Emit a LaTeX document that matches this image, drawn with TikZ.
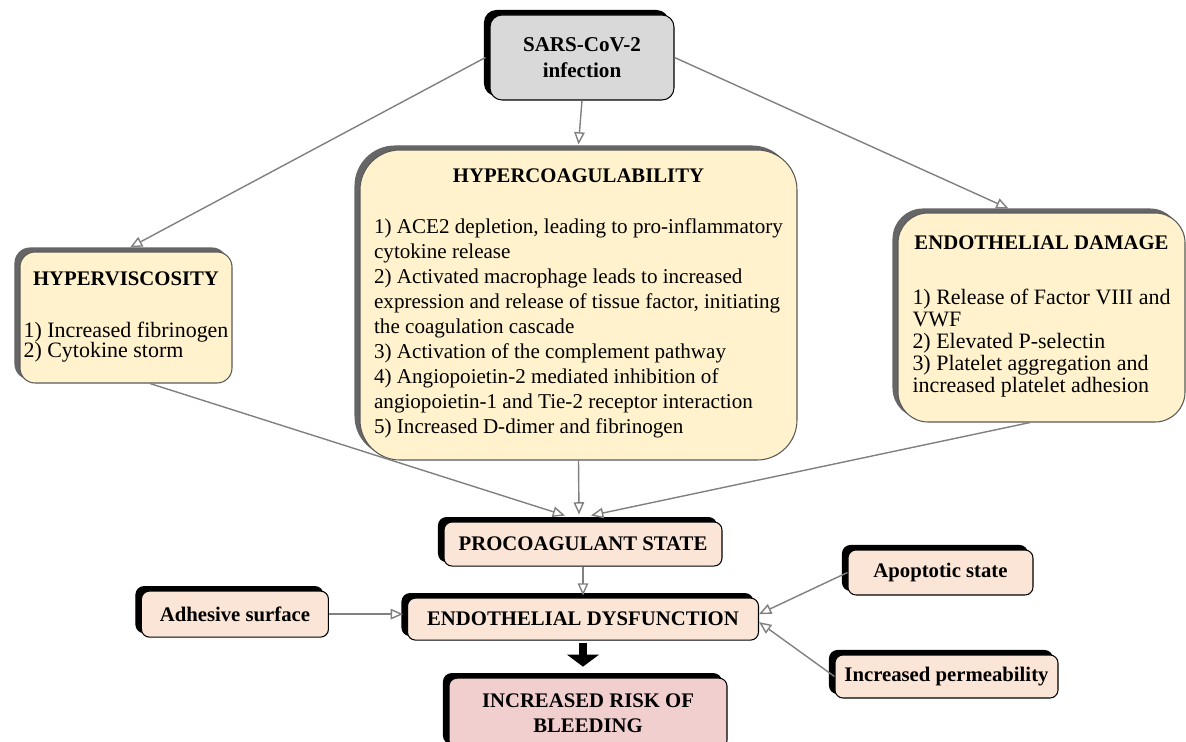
\documentclass[tikz,border=0pt]{standalone}
\usepackage{fontspec}
\setmainfont{Liberation Serif}
\usetikzlibrary{arrows.meta, positioning, shadows}
\definecolor{sarsgray}{HTML}{D9D9D9}
\definecolor{paleyellow}{HTML}{FFF2CC}
\definecolor{peach}{HTML}{FBE5D6}
\definecolor{rose}{HTML}{F2CFCF}
\definecolor{linkgray}{HTML}{808080}
\newcommand{\boxhead}[1]{{\fontsize{11.8}{12}\selectfont\bfseries #1}}

\begin{document}
\begin{tikzpicture}[node distance=1cm, >=latex,
    every node/.style={align=center, inner sep=2pt},
    smallbox/.style={rectangle, rounded corners=0.16cm, draw=black, line width=0.6pt, fill=peach,
      font=\fontsize{11.8}{14}\selectfont\bfseries,
      copy shadow={shadow xshift=-0.11cm, shadow yshift=0.09cm, fill=black, draw=black}},
    bigbox/.style={rectangle, rounded corners=0.6cm, draw=black!65, line width=0.6pt, fill=paleyellow,
      copy shadow={shadow xshift=-0.1cm, shadow yshift=0.08cm, fill=black!60, draw=black!60}},
    link/.style={draw=linkgray, line width=0.8pt, -{Triangle[fill=white, length=7pt, width=6pt]}},
    blockarrow/.style={line width=0.16cm, -{Triangle[length=0.24cm, width=0.64cm, line width=0pt]}},
  ]
    \useasboundingbox (0,0) rectangle (23.72,-14.84);

    % Nodes
    \node (sars) [smallbox, fill=sarsgray, rounded corners=0.24cm, minimum width=3.68cm, minimum height=1.7cm,
      font=\fontsize{12}{14.5}\selectfont\bfseries] at (11.64,-1.15) {SARS-CoV-2\\infection};

    \node (hypercoag) [bigbox, rounded corners=0.8cm, minimum width=8.74cm, minimum height=6.2cm,
      font=\fontsize{12}{14.2}\selectfont] at (11.57,-6.10) {\boxhead{HYPERCOAGULABILITY}\\[14.8pt]
      \begin{tabular}[t]{@{}l@{}}
        1) ACE2 depletion, leading to pro-inflammatory\\
        cytokine release\\
        2) Activated macrophage leads to increased\\
        expression and release of tissue factor, initiating\\
        the coagulation cascade\\
        3) Activation of the complement pathway\\
        4) Angiopoietin-2 mediated inhibition of\\
        angiopoietin-1 and Tie-2 receptor interaction\\
        5) Increased D-dimer and fibrinogen
      \end{tabular}};

    \node (hypervisc) [bigbox, rounded corners=0.3cm, minimum width=4.24cm, minimum height=2.62cm,
      font=\fontsize{12.5}{10.6}\selectfont] at (2.52,-6.35) {\boxhead{HYPERVISCOSITY}\\[19pt]
      \begin{tabular}[t]{@{}l@{}}
        1) Increased fibrinogen\\
        2) Cytokine storm
      \end{tabular}};

    \node (endodmg) [bigbox, minimum width=5.74cm, minimum height=4.18cm,
      font=\fontsize{12.5}{12.5}\selectfont] at (20.83,-6.35) {\boxhead{ENDOTHELIAL DAMAGE}\\[18.8pt]
      \begin{tabular}[t]{@{}l@{}}
        1) Release of Factor VIII and\\
        VWF\\
        2) Elevated P-selectin\\
        3) Platelet aggregation and\\
        increased platelet adhesion
      \end{tabular}};

    \node (procoag) [smallbox, below=1.22cm of hypercoag, xshift=0.09cm, minimum width=5.56cm, minimum height=0.88cm] {PROCOAGULANT STATE};
    \node (dysfunc) [smallbox, below=0.62cm of procoag, minimum width=7.02cm, minimum height=0.84cm] {ENDOTHELIAL DYSFUNCTION};
    \node (bleeding) [smallbox, fill=rose, below=0.74cm of dysfunc, xshift=0.1cm, minimum width=5.56cm, minimum height=1.4cm] {INCREASED RISK OF\\BLEEDING};

    \node (adhesive) [smallbox, left=1.56cm of dysfunc, yshift=0.1cm, minimum width=3.74cm, minimum height=0.92cm] {Adhesive surface};
    \node (apoptotic) [smallbox, minimum width=3.7cm, minimum height=0.9cm] at (18.81,-11.45) {Apoptotic state};
    \node (permeab) [smallbox, minimum width=4.46cm, minimum height=0.86cm] at (18.93,-13.53) {Increased permeability};

    % Connections
    \draw[link] ([xshift=-0.08cm]sars.west) -- ([shift={(0.08,0.08)}]hypervisc.north);
    \draw[link] (sars.south) -- ([yshift=0.1cm]hypercoag.north);
    \draw[link] (sars.east) -- ([shift={(-0.66,0.08)}]endodmg.north);

    \draw[link] ([xshift=0.48cm]hypervisc.south) -- ([shift={(-0.36,0.12)}]procoag.north);
    \draw[link] (hypercoag.south) -- ([shift={(-0.08,0.14)}]procoag.north);
    \draw[link] ([xshift=-0.23cm]endodmg.south) -- ([shift={(0.16,0.12)}]procoag.north);

    \draw[link] (procoag.south) -- ([yshift=0.04cm]dysfunc.north);
    \draw[link] (adhesive.east) -- ([xshift=-0.08cm]adhesive.east -| dysfunc.west);
    \draw[link] (apoptotic.west) -- ([yshift=0.1cm]dysfunc.east);
    \draw[link] (permeab.west) -- ([yshift=-0.06cm]dysfunc.east);

    \draw[blockarrow] ([yshift=-0.04cm]dysfunc.south) -- ([yshift=0.22cm]dysfunc.south |- bleeding.north);

\end{tikzpicture}
\end{document}
